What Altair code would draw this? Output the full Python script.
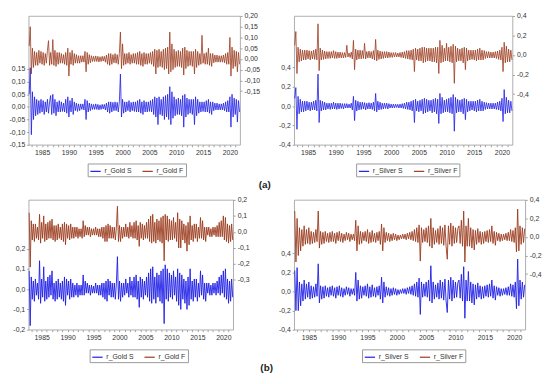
import altair as alt
import pandas as pd

T0 = 1982.6
STEP = 0.2
XDOM = [1982.5, 2021.9]
YEARS = list(range(1983, 2022))
BLUE = "#1c1ce6"
BROWN = "#9a3a1c"
FONT = "Liberation Sans"

# ---- (a) daily returns (sampled) ----
gold_s_daily = [
    0.05, 0.155, -0.11, 0.06, -0.05, 0.04, -0.035, 0.03, -0.03, 0.025,
    -0.025, 0.03, -0.02, 0.025, -0.03, 0.02, -0.02, 0.03, -0.025, 0.02,
    0.045, -0.03, 0.05, -0.025, 0.03, -0.035, 0.02, -0.02, 0.025, -0.02,
    0.02, -0.018, 0.015, -0.02, 0.03, -0.025, 0.04, -0.04, 0.025, -0.02,
    0.035, -0.03, 0.02, -0.015, 0.015, -0.018, 0.012, -0.015, 0.012, -0.01,
    0.012, -0.012, 0.03, -0.05, 0.025, -0.02, 0.015, -0.015, 0.012, -0.01,
    0.01, -0.01, 0.012, -0.01, 0.01, -0.012, 0.008, -0.01, 0.01, -0.008,
    0.01, -0.012, 0.015, -0.02, 0.02, -0.025, 0.02, -0.02, 0.018, -0.015,
    0.02, -0.015, 0.018, -0.02, 0.02, 0.13, -0.04, 0.03, -0.025, 0.02,
    -0.02, 0.02, -0.015, 0.025, -0.02, 0.018, -0.015, 0.02, -0.018, 0.02,
    -0.02, 0.025, -0.02, 0.03, -0.025, 0.02, -0.03, 0.025, -0.02, 0.02,
    -0.02, 0.02, -0.018, 0.025, -0.02, 0.03, -0.03, 0.04, -0.04, 0.035,
    -0.07, 0.04, -0.03, 0.03, -0.035, 0.04, -0.05, 0.045, -0.04, 0.05,
    -0.05, 0.08, -0.07, 0.06, -0.045, 0.04, -0.035, 0.03, -0.03, 0.035,
    -0.03, 0.03, -0.035, 0.045, -0.08, 0.05, -0.04, 0.035, -0.03, 0.03,
    -0.025, 0.03, -0.03, 0.03, -0.07, 0.04, -0.035, 0.03, -0.025, 0.02,
    -0.02, 0.02, -0.018, 0.02, -0.02, 0.025, -0.02, 0.03, -0.025, 0.02,
    -0.03, 0.02, -0.015, 0.015, -0.012, 0.015, -0.012, 0.012, -0.012, 0.012,
    -0.012, 0.015, -0.015, 0.02, -0.02, 0.025, -0.02, 0.04, -0.08, 0.05,
    -0.04, 0.035, -0.03, 0.03, -0.06, 0.025, -0.02,
]
gold_f_daily = [
    0.06, 0.15, -0.07, 0.05, -0.04, 0.035, -0.03, 0.03, -0.03, 0.04,
    -0.02, 0.035, -0.025, 0.03, -0.03, 0.025, -0.02, 0.04, 0.085, -0.03,
    0.03, -0.025, 0.09, -0.03, 0.04, -0.035, 0.03, -0.025, 0.03, -0.02,
    0.025, -0.02, 0.02, -0.025, 0.03, -0.03, 0.05, -0.08, 0.03, -0.025,
    0.04, -0.03, 0.025, -0.02, 0.02, -0.02, 0.015, -0.02, 0.015, -0.015,
    0.015, -0.015, 0.035, -0.06, 0.03, -0.025, 0.02, -0.018, 0.015, -0.012,
    0.012, -0.012, 0.014, -0.012, 0.012, -0.014, 0.01, -0.012, 0.012, -0.01,
    0.012, -0.015, 0.018, -0.025, 0.025, -0.03, 0.025, -0.025, 0.02, -0.018,
    0.025, -0.02, 0.02, -0.025, 0.025, 0.125, -0.045, 0.07, -0.03, 0.025,
    -0.025, 0.025, -0.02, 0.03, -0.025, 0.02, -0.02, 0.025, -0.02, 0.025,
    -0.025, 0.03, -0.025, 0.035, -0.03, 0.025, -0.035, 0.03, -0.025, 0.025,
    -0.025, 0.025, -0.02, 0.03, -0.025, 0.035, -0.035, 0.045, -0.07, 0.04,
    -0.04, 0.045, -0.035, 0.035, -0.04, 0.045, -0.05, 0.05, -0.045, 0.055,
    -0.07, 0.125, -0.06, 0.07, -0.05, 0.045, -0.04, 0.035, -0.035, 0.04,
    -0.035, 0.035, -0.04, 0.05, -0.075, 0.055, -0.045, 0.04, -0.035, 0.035,
    -0.03, 0.035, -0.035, 0.035, -0.07, 0.045, -0.04, 0.035, -0.03, 0.025,
    -0.025, 0.11, -0.02, 0.025, -0.025, 0.03, -0.025, 0.05, -0.03, 0.025,
    -0.035, 0.025, -0.018, 0.018, -0.015, 0.018, -0.015, 0.015, -0.015, 0.015,
    -0.015, 0.018, -0.018, 0.025, -0.025, 0.03, -0.025, 0.1, -0.08, 0.055,
    -0.045, 0.04, -0.035, 0.035, -0.06, 0.03, -0.025,
]
silver_s_daily = [
    0.08, 0.19, -0.24, 0.1, -0.08, 0.07, -0.06, 0.05, -0.06, 0.05,
    -0.05, 0.05, -0.04, 0.04, -0.05, 0.04, -0.04, 0.05, -0.04, 0.06,
    -0.05, 0.33, -0.17, 0.06, -0.05, 0.05, -0.04, 0.04, -0.04, 0.03,
    -0.03, 0.03, -0.035, 0.03, -0.03, 0.04, -0.03, 0.03, -0.035, 0.03,
    -0.03, 0.03, -0.025, 0.025, -0.03, 0.025, -0.02, 0.025, -0.02, 0.02,
    -0.02, 0.03, -0.04, 0.1, -0.15, 0.06, -0.05, 0.05, -0.04, 0.04,
    -0.035, 0.04, -0.03, 0.035, -0.04, 0.03, -0.03, 0.035, -0.03, 0.03,
    -0.035, 0.04, -0.05, 0.13, -0.06, 0.05, -0.04, 0.04, -0.035, 0.03,
    -0.03, 0.03, -0.025, 0.03, -0.03, 0.025, -0.02, 0.02, -0.02, 0.02,
    -0.02, 0.02, -0.015, 0.018, -0.02, 0.02, -0.02, 0.025, -0.025, 0.03,
    -0.03, 0.04, -0.035, 0.04, -0.04, 0.05, -0.05, 0.06, -0.17, 0.07,
    -0.05, 0.05, -0.06, 0.06, -0.05, 0.07, -0.08, 0.08, -0.07, 0.07,
    -0.06, 0.06, -0.05, 0.06, -0.07, 0.07, -0.06, 0.08, -0.08, 0.07,
    -0.18, 0.13, -0.08, 0.09, -0.07, 0.06, -0.06, 0.07, -0.06, 0.08,
    -0.07, 0.09, -0.08, 0.12, -0.26, 0.09, -0.07, 0.07, -0.06, 0.06,
    -0.06, 0.07, -0.08, 0.08, -0.14, 0.07, -0.06, 0.05, -0.05, 0.05,
    -0.04, 0.05, -0.05, 0.05, -0.06, 0.06, -0.05, 0.07, -0.05, 0.05,
    -0.05, 0.04, -0.035, 0.035, -0.03, 0.03, -0.03, 0.03, -0.03, 0.03,
    -0.03, 0.03, -0.035, 0.04, -0.04, 0.05, -0.05, 0.08, -0.16, 0.17,
    -0.08, 0.09, -0.07, 0.06, -0.07, 0.05, -0.05,
]
silver_f_daily = [
    0.1, 0.24, -0.19, 0.08, -0.07, 0.06, -0.06, 0.05, -0.05, 0.05,
    -0.05, 0.05, -0.04, 0.045, -0.05, 0.04, -0.04, 0.05, -0.045, 0.06,
    -0.05, 0.32, -0.16, 0.07, -0.05, 0.05, -0.045, 0.04, -0.04, 0.035,
    -0.035, 0.035, -0.035, 0.035, -0.03, 0.045, -0.035, 0.035, -0.035, 0.03,
    -0.03, 0.03, -0.03, 0.025, -0.03, 0.025, -0.025, 0.1, -0.02, 0.02,
    -0.025, 0.03, -0.04, 0.15, -0.15, 0.06, -0.05, 0.05, -0.04, 0.05,
    -0.04, 0.045, -0.035, 0.12, -0.04, 0.035, -0.03, 0.04, -0.03, 0.035,
    -0.04, 0.045, -0.05, 0.16, -0.06, 0.05, -0.045, 0.04, -0.04, 0.035,
    -0.035, 0.035, -0.03, 0.035, -0.03, 0.03, -0.025, 0.025, -0.025, 0.025,
    -0.02, 0.025, -0.02, 0.02, -0.02, 0.025, -0.025, 0.03, -0.03, 0.035,
    -0.035, 0.045, -0.04, 0.045, -0.045, 0.05, -0.05, 0.06, -0.17, 0.07,
    -0.05, 0.06, -0.06, 0.07, -0.06, 0.08, -0.08, 0.08, -0.07, 0.07,
    -0.06, 0.07, -0.06, 0.07, -0.07, 0.07, -0.07, 0.08, -0.08, 0.08,
    -0.19, 0.15, -0.08, 0.1, -0.07, 0.07, -0.06, 0.12, -0.06, 0.08,
    -0.07, 0.09, -0.08, 0.11, -0.29, 0.09, -0.07, 0.07, -0.06, 0.06,
    -0.06, 0.07, -0.08, 0.08, -0.15, 0.07, -0.06, 0.05, -0.05, 0.05,
    -0.045, 0.05, -0.05, 0.05, -0.06, 0.06, -0.05, 0.07, -0.05, 0.05,
    -0.05, 0.045, -0.035, 0.035, -0.03, 0.035, -0.03, 0.03, -0.03, 0.03,
    -0.03, 0.035, -0.035, 0.04, -0.045, 0.05, -0.05, 0.08, -0.17, 0.13,
    -0.08, 0.09, -0.07, 0.06, -0.07, 0.05, -0.05,
]

# ---- (b) monthly returns (sampled) ----
gold_s_monthly = [
    0.09, -0.18, 0.06, -0.05, 0.04, -0.06, 0.05, -0.03, 0.03, -0.05,
    0.14, -0.07, 0.05, -0.04, 0.11, -0.06, 0.04, -0.05, 0.06, -0.04,
    0.07, -0.03, 0.09, -0.05, 0.03, -0.06, 0.04, -0.05, 0.05, -0.04,
    0.03, -0.05, 0.04, -0.06, 0.06, -0.08, 0.05, -0.03, 0.04, -0.05,
    0.05, -0.04, 0.03, -0.04, 0.02, -0.03, 0.03, -0.04, 0.02, -0.03,
    0.02, -0.03, 0.07, -0.03, 0.04, -0.02, 0.03, -0.02, 0.02, -0.03,
    0.02, -0.02, 0.015, -0.02, 0.03, -0.02, 0.02, -0.03, 0.02, -0.03,
    0.03, -0.04, 0.03, -0.05, 0.04, -0.06, 0.05, -0.03, 0.04, -0.04,
    0.03, -0.04, 0.03, -0.05, 0.03, 0.16, -0.05, 0.04, -0.06, 0.03,
    -0.04, 0.03, -0.03, 0.05, -0.02, 0.03, -0.04, 0.06, -0.03, 0.04,
    -0.04, 0.06, -0.04, 0.07, -0.05, 0.04, -0.09, 0.06, -0.04, 0.05,
    -0.05, 0.04, -0.03, 0.06, -0.04, 0.08, -0.06, 0.1, -0.07, 0.11,
    -0.05, 0.06, -0.07, 0.08, -0.04, 0.07, -0.06, 0.09, -0.07, 0.1,
    -0.17, 0.12, -0.05, 0.1, -0.06, 0.08, -0.04, 0.07, -0.05, 0.09,
    -0.03, 0.06, -0.06, 0.1, -0.08, 0.08, -0.1, 0.07, -0.05, 0.05,
    -0.07, 0.04, -0.1, 0.06, -0.08, 0.1, -0.05, 0.04, -0.06, 0.05,
    -0.04, 0.05, -0.06, 0.03, -0.04, 0.09, -0.03, 0.07, -0.05, 0.03,
    -0.06, 0.03, -0.02, 0.03, -0.03, 0.02, -0.03, 0.03, -0.02, 0.03,
    -0.03, 0.04, -0.02, 0.06, -0.03, 0.07, -0.02, 0.09, -0.04, 0.1,
    -0.05, 0.05, -0.07, 0.04, -0.06, 0.05, -0.04,
]
gold_f_monthly = [
    0.12, -0.22, 0.07, -0.05, 0.05, -0.06, 0.05, -0.04, 0.03, -0.05,
    0.11, -0.07, 0.06, -0.04, 0.1, -0.06, 0.05, -0.05, 0.06, -0.04,
    0.07, -0.04, 0.08, -0.05, 0.04, -0.06, 0.04, -0.05, 0.05, -0.04,
    0.03, -0.05, 0.05, -0.06, 0.06, -0.08, 0.05, -0.04, 0.04, -0.05,
    0.05, -0.04, 0.03, -0.04, 0.03, -0.03, 0.03, -0.04, 0.02, -0.03,
    0.02, -0.04, 0.07, -0.03, 0.04, -0.02, 0.03, -0.02, 0.03, -0.03,
    0.02, -0.02, 0.02, -0.02, 0.03, -0.02, 0.02, -0.03, 0.02, -0.03,
    0.03, -0.04, 0.03, -0.06, 0.04, -0.06, 0.05, -0.04, 0.04, -0.04,
    0.03, -0.04, 0.03, -0.05, 0.03, 0.16, -0.06, 0.04, -0.06, 0.03,
    -0.04, 0.03, -0.03, 0.05, -0.03, 0.03, -0.04, 0.06, -0.03, 0.04,
    -0.04, 0.06, -0.04, 0.07, -0.05, 0.04, -0.09, 0.06, -0.04, 0.05,
    -0.05, 0.04, -0.04, 0.06, -0.04, 0.08, -0.06, 0.1, -0.07, 0.11,
    -0.06, 0.06, -0.07, 0.08, -0.05, 0.07, -0.06, 0.09, -0.07, 0.1,
    -0.18, 0.11, -0.05, 0.1, -0.06, 0.08, -0.05, 0.07, -0.05, 0.09,
    -0.04, 0.06, -0.06, 0.12, -0.1, 0.08, -0.1, 0.07, -0.05, 0.05,
    -0.07, 0.04, -0.12, 0.06, -0.08, 0.1, -0.05, 0.04, -0.06, 0.05,
    -0.04, 0.05, -0.06, 0.03, -0.04, 0.09, -0.04, 0.07, -0.05, 0.03,
    -0.06, 0.03, -0.02, 0.03, -0.03, 0.02, -0.03, 0.03, -0.02, 0.03,
    -0.03, 0.04, -0.03, 0.06, -0.03, 0.07, -0.03, 0.1, -0.05, 0.09,
    -0.06, 0.05, -0.07, 0.04, -0.06, 0.05, -0.05,
]
silver_s_monthly = [
    0.22, -0.2, 0.25, -0.2, 0.1, -0.15, 0.08, -0.1, 0.12, -0.08,
    0.08, -0.06, 0.1, -0.08, 0.06, -0.07, 0.05, -0.06, 0.08, -0.05,
    0.29, -0.12, 0.06, -0.08, 0.05, -0.07, 0.06, -0.05, 0.04, -0.06,
    0.05, -0.04, 0.06, -0.05, 0.04, -0.07, 0.05, -0.04, 0.06, -0.05,
    0.04, -0.06, 0.03, -0.04, 0.05, -0.03, 0.04, -0.05, 0.03, -0.03,
    0.03, -0.04, 0.2, -0.1, 0.12, -0.08, 0.06, -0.07, 0.05, -0.04,
    0.06, -0.05, 0.08, -0.07, 0.05, -0.06, 0.07, -0.05, 0.04, -0.06,
    0.05, -0.04, 0.06, -0.08, 0.15, -0.12, 0.1, -0.06, 0.05, -0.04,
    0.04, -0.05, 0.03, -0.04, 0.04, -0.03, 0.03, -0.04, 0.02, -0.03,
    0.02, -0.02, 0.03, -0.02, 0.03, -0.03, 0.04, -0.02, 0.05, -0.03,
    0.06, -0.04, 0.08, -0.05, 0.1, -0.06, 0.14, -0.24, 0.1, -0.06,
    0.08, -0.05, 0.1, -0.06, 0.12, -0.1, 0.27, -0.12, 0.1, -0.08,
    0.07, -0.06, 0.09, -0.08, 0.12, -0.07, 0.1, -0.09, 0.13, -0.1,
    -0.22, 0.12, -0.08, 0.15, -0.1, 0.12, -0.07, 0.1, -0.06, 0.09,
    0.12, -0.07, 0.18, -0.1, 0.26, -0.28, 0.12, -0.1, 0.21, -0.1,
    0.1, -0.12, 0.08, -0.14, 0.07, -0.08, 0.09, -0.06, 0.06, -0.08,
    0.05, -0.07, 0.06, -0.05, 0.07, -0.06, 0.08, -0.05, 0.12, -0.07,
    0.06, -0.09, 0.05, -0.04, 0.04, -0.05, 0.03, -0.04, 0.03, -0.03,
    0.04, -0.04, 0.05, -0.04, 0.08, -0.05, 0.07, -0.06, 0.1, -0.18,
    0.34, -0.15, 0.12, -0.08, 0.1, -0.06, 0.07,
]
silver_f_monthly = [
    0.28, -0.27, 0.2, -0.2, 0.1, -0.15, 0.08, -0.1, 0.12, -0.08,
    0.08, -0.07, 0.1, -0.08, 0.06, -0.07, 0.05, -0.06, 0.08, -0.05,
    0.28, -0.12, 0.06, -0.08, 0.05, -0.07, 0.06, -0.05, 0.04, -0.06,
    0.05, -0.05, 0.06, -0.05, 0.04, -0.07, 0.05, -0.04, 0.06, -0.05,
    0.04, -0.06, 0.03, -0.04, 0.05, -0.03, 0.04, -0.05, 0.03, -0.03,
    0.03, -0.04, 0.18, -0.15, 0.12, -0.08, 0.06, -0.07, 0.05, -0.04,
    0.06, -0.05, 0.08, -0.07, 0.05, -0.06, 0.07, -0.05, 0.04, -0.06,
    0.05, -0.04, 0.06, -0.08, 0.14, -0.15, 0.1, -0.06, 0.05, -0.04,
    0.04, -0.05, 0.03, -0.04, 0.04, -0.03, 0.03, -0.04, 0.02, -0.03,
    0.02, -0.02, 0.03, -0.02, 0.03, -0.03, 0.04, -0.02, 0.05, -0.03,
    0.06, -0.04, 0.08, -0.05, 0.1, -0.06, 0.13, -0.26, 0.1, -0.06,
    0.08, -0.05, 0.1, -0.06, 0.12, -0.1, 0.2, -0.12, 0.1, -0.08,
    0.07, -0.06, 0.09, -0.08, 0.12, -0.07, 0.1, -0.09, 0.13, -0.1,
    -0.24, 0.12, -0.08, 0.15, -0.1, 0.12, -0.07, 0.1, -0.06, 0.09,
    0.12, -0.07, 0.18, -0.1, 0.28, -0.27, 0.12, -0.1, 0.2, -0.1,
    0.1, -0.12, 0.08, -0.14, 0.07, -0.08, 0.09, -0.06, 0.06, -0.08,
    0.05, -0.07, 0.06, -0.05, 0.07, -0.06, 0.08, -0.05, 0.12, -0.07,
    0.06, -0.09, 0.05, -0.04, 0.04, -0.05, 0.03, -0.04, 0.03, -0.03,
    0.04, -0.04, 0.05, -0.04, 0.08, -0.05, 0.07, -0.06, 0.1, -0.16,
    0.3, -0.15, 0.12, -0.08, 0.1, -0.06, 0.09,
]


def times(n):
    return [round(T0 + STEP * i, 1) for i in range(n)]


def lab_expr(fmt):
    return ("replace(replace(format(datum.value, '%s'), '.', ','), '\u2212', '-')" % fmt)


def yaxis(orient, vals, fmt):
    return alt.Axis(orient=orient, values=vals, labelExpr=lab_expr(fmt), title=None,
                    grid=False, domain=False, tickSize=2, labelPadding=2)


def panel(s, f, names, w, h, ldom, lvals, rdom, rvals, fmt, legxy, sw, tag=None, tagxy=None):
    ds = pd.DataFrame({"t": times(len(s)), "v": s, "series": names[0]})
    dfu = pd.DataFrame({"t": times(len(f)), "v": f, "series": names[1]})
    cscale = alt.Scale(domain=names, range=[BLUE, BROWN])
    leg = alt.Legend(orient="none", legendX=legxy[0], legendY=legxy[1], direction="horizontal",
                     title=None, symbolType="stroke", symbolSize=110, symbolStrokeWidth=1.2,
                     labelFontSize=7, labelFont=FONT, labelColor="#333",
                     strokeColor="#999", fillColor="white", padding=2,
                     columnPadding=8, labelOffset=3)
    x = alt.X("t:Q", scale=alt.Scale(domain=XDOM, nice=False, zero=False),
              axis=alt.Axis(values=YEARS,
                            labelExpr="datum.value % 5 == 0 ? '' + datum.value : ''",
                            title=None, grid=False, domain=False, tickSize=2,
                            labelPadding=2, labelFlush=False))
    ls = alt.Chart(ds).mark_line(strokeWidth=sw).encode(
        x=x,
        y=alt.Y("v:Q", scale=alt.Scale(domain=ldom, nice=False, zero=False),
                axis=yaxis("left", lvals, fmt)),
        color=alt.Color("series:N", scale=cscale, legend=leg),
    )
    lf = alt.Chart(dfu).mark_line(strokeWidth=sw).encode(
        x=x,
        y=alt.Y("v:Q", scale=alt.Scale(domain=rdom, nice=False, zero=False),
                axis=yaxis("right", rvals, fmt)),
        color=alt.Color("series:N", scale=cscale, legend=leg),
    )
    layers = [ls, lf]
    if tag:
        txt = alt.Chart(pd.DataFrame({"lab": [tag]})).mark_text(
            font=FONT, fontSize=10, fontWeight="bold", color="#222",
            align="center", baseline="middle"
        ).encode(text="lab:N", x=alt.value(tagxy[0]), y=alt.value(tagxy[1]))
        layers.append(txt)
    return alt.layer(*layers).resolve_scale(y="independent").properties(width=w, height=h)


tl = panel(gold_s_daily, gold_f_daily, ["r_Gold S", "r_Gold F"], 215, 131,
           [-0.15, 0.36], [-0.15, -0.10, -0.05, 0.0, 0.05, 0.10, 0.15],
           [-0.40, 0.20], [-0.15, -0.10, -0.05, 0.0, 0.05, 0.10, 0.15, 0.20],
           ".2f", (60, 150), 0.8, "(a)", (240, 172))
tr = panel(silver_s_daily, silver_f_daily, ["r_Silver S", "r_Silver F"], 222, 131,
           [-0.4, 0.93], [-0.4, -0.2, 0.0, 0.2, 0.4],
           [-0.92, 0.4], [-0.4, -0.2, 0.0, 0.2, 0.4],
           ".1f", (63, 150), 0.8)
bl = panel(gold_s_monthly, gold_f_monthly, ["r_Gold S", "r_Gold F"], 208, 132,
           [-0.2, 0.44], [-0.2, -0.1, 0.0, 0.1, 0.2],
           [-0.61, 0.2], [-0.3, -0.2, -0.1, 0.0, 0.1, 0.2],
           ".1f", (62, 152), 0.9, "(b)", (242, 171))
br = panel(silver_s_monthly, silver_f_monthly, ["r_Silver S", "r_Silver F"], 235, 132,
           [-0.4, 0.96], [-0.4, -0.2, 0.0, 0.2, 0.4],
           [-1.0, 0.4], [-0.4, -0.2, 0.0, 0.2, 0.4],
           ".1f", (69, 152), 0.9)

chart = (
    alt.concat(tl, tr, bl, br, columns=2, spacing={"row": 56, "column": 55},
               bounds="flush", align="none")
    .resolve_scale(color="independent")
    .properties(padding=0)
    .configure_view(stroke="#999", strokeWidth=0.8)
    .configure_axis(labelFont=FONT, labelFontSize=7, labelColor="#333",
                    tickColor="#888", tickWidth=0.8)
)

chart.save("out.html", embed_options={"renderer": "svg", "actions": False})
